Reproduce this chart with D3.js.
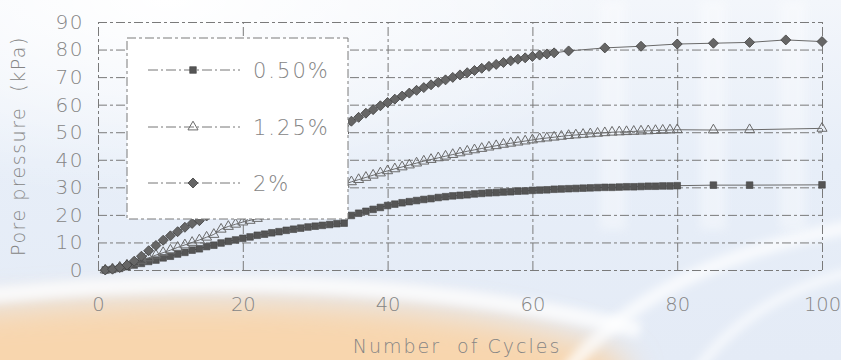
<!DOCTYPE html>
<html>
<head>
<meta charset="utf-8">
<script src="https://cdn.jsdelivr.net/npm/d3@7"></script>
<style>
  html, body { margin: 0; padding: 0; background: #ffffff; }
  svg { display: block; }
  text { font-family: "DejaVu Sans", "Liberation Sans", sans-serif; }
</style>
</head>
<body>
<svg id="chart" width="841" height="360"></svg>
<script>
// Pore pressure build-up against loading cycles for three shear strain levels.

const xTicks = [0, 20, 40, 60, 80, 100];
const yTicks = [0, 10, 20, 30, 40, 50, 60, 70, 80, 90];
const seriesNames = ["0.50%", "1.25%", "2%"];

// 0.50 % strain
const cycles050 = [1,2,3,4,5,6,7,8,9,10,11,12,13,14,15,16,17,18,19,20,
  21,22,23,24,25,26,27,28,29,30,31,32,33,34,35,36,37,38,39,40,
  41,42,43,44,45,46,47,48,49,50,51,52,53,54,55,56,57,58,59,60,
  61,62,63,64,65,66,67,68,69,70,71,72,73,74,75,76,77,78,79,80,
  85,90,100];
const pressure050 = [0,0.2,0.6,1.2,1.8,2.4,3.1,3.6,4.4,5.0,5.8,6.4,7.2,7.7,8.5,9.0,9.8,10.4,10.9,11.5,
  12.0,12.6,13.0,13.5,13.9,14.4,14.8,15.2,15.6,15.9,16.2,16.5,16.8,17.0,19.8,20.6,21.3,22.0,22.7,23.4,
  23.9,24.4,24.8,25.2,25.6,25.9,26.3,26.6,26.9,27.1,27.3,27.6,27.8,28.0,28.1,28.3,28.4,28.6,28.7,28.9,
  29.0,29.1,29.3,29.4,29.5,29.6,29.7,29.8,29.9,30.0,30.0,30.1,30.2,30.2,30.3,30.4,30.4,30.5,30.5,30.6,
  30.8,30.8,30.9];

// 1.25 % strain
const cycles125 = [1,2,3,4,5,6,7,8,9,10,11,12,13,14,15,16,17,18,19,20,
  21,22,23,24,25,26,27,28,29,30,31,32,33,34,35,36,37,38,39,40,
  41,42,43,44,45,46,47,48,49,50,51,52,53,54,55,56,57,58,59,60,
  61,62,63,64,65,66,67,68,69,70,71,72,73,74,75,76,77,78,79,80,
  85,90,100];
const pressure125 = [0,0.4,1.0,1.8,2.6,3.5,4.4,5.4,6.3,7.2,8.2,9.1,10.0,10.9,11.9,12.9,14.8,15.8,16.6,17.4,
  18.0,18.7,19.6,20.8,21.9,23.0,24.2,25.3,26.4,27.4,28.4,29.4,30.3,31.1,32.0,32.8,33.6,34.4,35.2,36.0,
  36.7,37.4,38.1,38.8,39.5,40.1,40.7,41.3,41.9,42.5,43.1,43.6,44.1,44.6,45.1,45.6,46.0,46.4,46.8,47.2,
  47.6,47.9,48.2,48.5,48.8,49.0,49.2,49.4,49.6,49.8,50.0,50.1,50.2,50.3,50.4,50.5,50.6,50.7,50.8,50.9,
  50.8,50.9,51.4];

// 2 % strain
const cycles200 = [1,2,3,4,5,6,7,8,9,10,11,12,13,14,15,16,17,18,19,20,
  21,22,23,24,25,26,27,28,29,30,31,32,33,34,35,36,37,38,39,40,
  41,42,43,44,45,46,47,48,49,50,51,52,53,54,55,56,57,58,59,60,
  61,62,63,65,70,75,80,85,90,95,100];
const pressure200 = [0,0.3,0.9,1.8,3.2,5.0,7.0,8.9,10.8,12.4,13.9,15.5,16.9,17.9,19.6,21.1,22.8,24.3,26.0,27.5,
  29.2,30.7,32.4,33.9,35.6,37.1,38.7,40.3,41.8,43.5,45.1,46.6,48.3,49.8,54.0,55.4,56.9,58.2,59.6,60.8,
  62.0,63.1,64.2,65.2,66.2,67.2,68.1,69.0,69.9,70.8,71.6,72.4,73.2,73.9,74.6,75.3,75.9,76.5,77.0,77.5,
  78.0,78.4,78.8,79.5,80.6,81.2,82.0,82.3,82.6,83.5,82.9];

const width = 841, height = 360;
const plot = { left: 98, right: 822, top: 22, bottom: 270 };

const svg = d3.select("#chart");
const defs = svg.append("defs");

// ---- soft backdrop ----
const bgGrad = defs.append("linearGradient").attr("id", "bgGrad")
  .attr("x1", 0).attr("y1", 0).attr("x2", 0).attr("y2", 1);
bgGrad.append("stop").attr("offset", "0%").attr("stop-color", "#f3f6fb");
bgGrad.append("stop").attr("offset", "45%").attr("stop-color", "#e7eef8");
bgGrad.append("stop").attr("offset", "100%").attr("stop-color", "#e4ebf6");

const glow = defs.append("radialGradient").attr("id", "glow")
  .attr("cx", 0.2).attr("cy", 0.0).attr("r", 0.55);
glow.append("stop").attr("offset", "0%").attr("stop-color", "#ffffff").attr("stop-opacity", 1);
glow.append("stop").attr("offset", "100%").attr("stop-color", "#ffffff").attr("stop-opacity", 0);

const blurBig = defs.append("filter").attr("id", "blurBig")
  .attr("x", "-20%").attr("y", "-50%").attr("width", "140%").attr("height", "200%");
blurBig.append("feGaussianBlur").attr("stdDeviation", 16);
const blurSmall = defs.append("filter").attr("id", "blurSmall")
  .attr("x", "-20%").attr("y", "-50%").attr("width", "140%").attr("height", "200%");
blurSmall.append("feGaussianBlur").attr("stdDeviation", 4);

const bg = svg.append("g").attr("class", "backdrop");
bg.append("rect").attr("width", width).attr("height", height).attr("fill", "url(#bgGrad)");
bg.append("rect").attr("width", width).attr("height", height).attr("fill", "url(#glow)");
bg.append("ellipse").attr("cx", 190).attr("cy", 375).attr("rx", 440).attr("ry", 75)
  .attr("fill", "#f8d6ae").attr("filter", "url(#blurBig)");
bg.append("path").attr("d", "M-20,296 C180,276 420,276 640,330")
  .attr("fill", "none").attr("stroke", "#ffffff").attr("stroke-width", 16)
  .attr("stroke-opacity", 0.75).attr("filter", "url(#blurSmall)");
bg.append("path").attr("d", "M560,380 C620,300 720,250 860,225")
  .attr("fill", "none").attr("stroke", "#ffffff").attr("stroke-width", 14)
  .attr("stroke-opacity", 0.7).attr("filter", "url(#blurSmall)");
bg.append("path").attr("d", "M690,380 C730,320 790,285 860,270")
  .attr("fill", "none").attr("stroke", "#ffffff").attr("stroke-width", 10)
  .attr("stroke-opacity", 0.6).attr("filter", "url(#blurSmall)");
[600, 700, 780].forEach(xv => {
  bg.append("rect").attr("x", xv).attr("y", 0).attr("width", 26).attr("height", 230)
    .attr("fill", "#ffffff").attr("opacity", 0.35).attr("filter", "url(#blurSmall)");
});

// ---- scales ----
const x = d3.scaleLinear().domain([0, 100]).range([plot.left, plot.right]);
const y = d3.scaleLinear().domain([0, 90]).range([plot.bottom, plot.top]);

const textColor = "#858585";
const gridColor = "#7a7a7a";

// ---- grid + axes ----
const yAxis = d3.axisLeft(y).tickValues(yTicks)
  .tickSize(-(plot.right - plot.left)).tickPadding(14);
const gy = svg.append("g").attr("transform", `translate(${plot.left},0)`).call(yAxis);
gy.select(".domain").remove();
gy.selectAll(".tick line").attr("stroke", gridColor).attr("stroke-width", 1)
  .attr("stroke-dasharray", "9,3,3,3");
gy.selectAll(".tick text").attr("fill", textColor).attr("font-size", 20)
  .attr("font-weight", 200).attr("letter-spacing", 1.5).attr("font-family", "DejaVu Sans");

const xAxis = d3.axisBottom(x).tickValues(xTicks)
  .tickSize(-(plot.bottom - plot.top)).tickPadding(27);
const gx = svg.append("g").attr("transform", `translate(0,${plot.bottom})`).call(xAxis);
gx.select(".domain").remove();
gx.selectAll(".tick line").attr("stroke", gridColor).attr("stroke-width", 1)
  .attr("stroke-dasharray", "9,3,3,3");
gx.selectAll(".tick text").attr("fill", textColor).attr("font-size", 19.5)
  .attr("font-weight", 200).attr("font-family", "DejaVu Sans");

// ---- data series ----
const series = [
  { name: seriesNames[0], cycles: cycles050, values: pressure050, shape: "square" },
  { name: seriesNames[1], cycles: cycles125, values: pressure125, shape: "triangle" },
  { name: seriesNames[2], cycles: cycles200, values: pressure200, shape: "diamond" }
];

const markerPath = {
  square: d3.symbol(d3.symbolSquare, 44)(),
  triangle: d3.symbol(d3.symbolTriangle, 44)(),
  diamond: d3.symbol(d3.symbolSquare, 50)()
};

function drawMarker(sel, shape) {
  const p = sel.append("path").attr("d", markerPath[shape]);
  if (shape === "square") {
    p.attr("fill", "#555").attr("stroke", "#444").attr("stroke-width", 0.6);
  } else if (shape === "triangle") {
    p.attr("fill", "none").attr("stroke", "#6a6a6a").attr("stroke-width", 1);
  } else {
    p.attr("fill", "#666").attr("stroke", "#444").attr("stroke-width", 0.8);
  }
  return p;
}

const line = d3.line().x(d => x(d[0])).y(d => y(d[1]));
const gData = svg.append("g").attr("class", "series");

series.forEach(s => {
  const pts = s.cycles.map((c, i) => [c, s.values[i]]);
  gData.append("path").datum(pts).attr("d", line)
    .attr("fill", "none").attr("stroke", "#6a6a6a").attr("stroke-width", 1);
  const g = gData.append("g");
  pts.forEach(p => {
    const m = g.append("g").attr("transform",
      `translate(${x(p[0])},${y(p[1])})` + (s.shape === "diamond" ? " rotate(45)" : ""));
    drawMarker(m, s.shape);
  });
});

// ---- legend ----
const legend = svg.append("g").attr("class", "legend");
legend.append("rect").attr("x", 127).attr("y", 38).attr("width", 221).attr("height", 181)
  .attr("fill", "#ffffff").attr("stroke", gridColor).attr("stroke-width", 1)
  .attr("stroke-dasharray", "9,3,3,3");
const legendRows = [70, 127, 183];
series.forEach((s, i) => {
  const ly = legendRows[i];
  legend.append("line").attr("x1", 148).attr("x2", 240).attr("y1", ly).attr("y2", ly)
    .attr("stroke", "#777").attr("stroke-width", 1).attr("stroke-dasharray", "10,3,2,3");
  const m = legend.append("g").attr("transform",
    `translate(193,${ly})` + (s.shape === "diamond" ? " rotate(45)" : ""));
  drawMarker(m, s.shape);
  legend.append("text").attr("x", 253).attr("y", ly + 8)
    .attr("fill", textColor).attr("font-size", 21).attr("font-weight", 200)
    .attr("letter-spacing", 2).text(s.name);
});

// ---- axis titles ----
svg.append("text")
  .attr("transform", "translate(25,146) rotate(-90)")
  .attr("text-anchor", "middle").attr("fill", textColor)
  .attr("font-size", 19).attr("font-weight", 200).attr("letter-spacing", 1.5)
  .attr("xml:space", "preserve")
  .text("Pore pressure  (kPa)");

svg.append("text")
  .attr("x", 457).attr("y", 353)
  .attr("text-anchor", "middle").attr("fill", textColor)
  .attr("font-size", 19).attr("font-weight", 200).attr("letter-spacing", 2)
  .attr("xml:space", "preserve")
  .text("Number  of Cycles");
</script>
</body>
</html>
